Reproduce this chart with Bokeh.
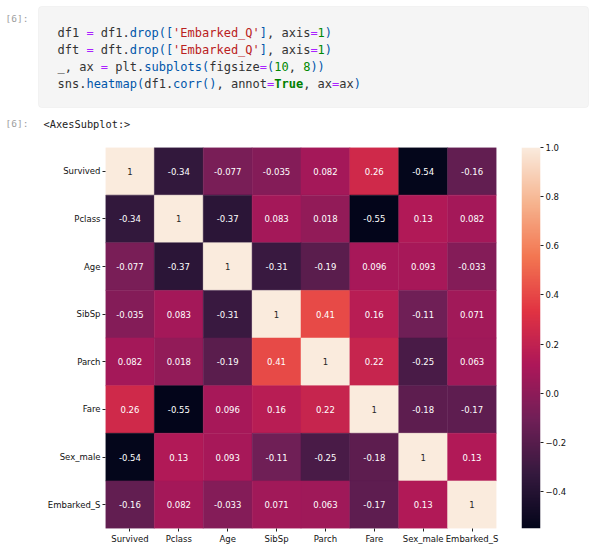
import numpy as np
from bokeh.plotting import figure
from bokeh.layouts import column, row
from bokeh.models import (ColumnDataSource, FactorRange, Range1d, LinearColorMapper,
                          FixedTicker, BoxAnnotation)
from bokeh.core.properties import value
from bokeh.embed import file_html
from bokeh.resources import INLINE

# ---------------- data ----------------
variables = ["Survived", "Pclass", "Age", "SibSp", "Parch", "Fare", "Sex_male", "Embarked_S"]
corr_survived = [1, -0.34, -0.077, -0.035, 0.082, 0.26, -0.54, -0.16]
corr_pclass = [-0.34, 1, -0.37, 0.083, 0.018, -0.55, 0.13, 0.082]
corr_age = [-0.077, -0.37, 1, -0.31, -0.19, 0.096, 0.093, -0.033]
corr_sibsp = [-0.035, 0.083, -0.31, 1, 0.41, 0.16, -0.11, 0.071]
corr_parch = [0.082, 0.018, -0.19, 0.41, 1, 0.22, -0.25, 0.063]
corr_fare = [0.26, -0.55, 0.096, 0.16, 0.22, 1, -0.18, -0.17]
corr_sex_male = [-0.54, 0.13, 0.093, -0.11, -0.25, -0.18, 1, 0.13]
corr_embarked_s = [-0.16, 0.082, -0.033, 0.071, 0.063, -0.17, 0.13, 1]
colorbar_ticks = [-0.4, -0.2, 0.0, 0.2, 0.4, 0.6, 0.8, 1.0]

rows_data = [corr_survived, corr_pclass, corr_age, corr_sibsp, corr_parch,
             corr_fare, corr_sex_male, corr_embarked_s]

# ---------------- rocket-like palette ----------------
anchors = ["#03051a", "#35193e", "#701f57", "#ad1759", "#e13342", "#f37651", "#f6b48f", "#faebdd"]
def hex2rgb(h):
    return np.array([int(h[i:i + 2], 16) for i in (1, 3, 5)], dtype=float)
anc = np.array([hex2rgb(h) for h in anchors])
apos = np.linspace(0, 1, len(anchors))
palette = []
for t in np.linspace(0, 1, 256):
    rgb = [np.interp(t, apos, anc[:, k]) for k in range(3)]
    palette.append("#%02x%02x%02x" % tuple(int(round(c)) for c in rgb))

all_vals = [v for r in rows_data for v in r]
vmin, vmax = min(all_vals), max(all_vals)
mapper = LinearColorMapper(palette=palette, low=vmin, high=vmax)

xs, ys, vals, labels, tcols = [], [], [], [], []
for rname, r in zip(variables, rows_data):
    for cname, v in zip(variables, r):
        xs.append(cname)
        ys.append(rname)
        vals.append(v)
        labels.append(f"{v:.2g}")
        tcols.append("#262626" if v > 0.6 else "#ffffff")
src = ColumnDataSource(dict(x=xs, y=ys, val=vals, label=labels, tcol=tcols))

# ---------------- code cell figure ----------------
CW, CH = 590, 138
code = figure(width=CW, height=CH, x_range=Range1d(0, CW), y_range=Range1d(CH, 0),
              output_backend="svg", toolbar_location=None, tools="",
              min_border=0, outline_line_color=None)
code.axis.visible = False
code.grid.visible = False

box = BoxAnnotation(left=38, right=588, top=6, bottom=107, fill_color="#f5f5f5", fill_alpha=1,
                    line_color="#e0e0e0", line_width=1, border_radius=3, level="underlay")
code.add_layout(box)

VAR, OP, PROP, STR, NUM, KW = "#333333", "#aa22ff", "#0055aa", "#ba2121", "#008800", "#008000"
code_lines = [
    [("df1 ", VAR), ("=", OP), (" df1.", VAR), ("drop", PROP), ("([", PROP), ("'Embarked_Q'", STR),
     ("]", PROP), (", axis", VAR), ("=", OP), ("1", NUM), (")", PROP)],
    [("dft ", VAR), ("=", OP), (" dft.", VAR), ("drop", PROP), ("([", PROP), ("'Embarked_Q'", STR),
     ("]", PROP), (", axis", VAR), ("=", OP), ("1", NUM), (")", PROP)],
    [("_, ax ", VAR), ("=", OP), (" plt.", VAR), ("subplots", PROP), ("(", PROP), ("figsize", VAR),
     ("=", OP), ("(", PROP), ("10", NUM), (", ", VAR), ("8", NUM), ("))", PROP)],
    [("sns.", VAR), ("heatmap", PROP), ("(", PROP), ("df1.", VAR), ("corr", PROP), ("()", PROP),
     (", annot", VAR), ("=", OP), ("True", KW), (", ax", VAR), ("=", OP), ("ax", VAR), (")", PROP)],
]
charw = 0.6021 * 12
x0 = 57
line_y = [32, 49, 66, 83]
tx, ty, tt, tc = [], [], [], []
bx, by, bt, bc = [], [], [], []
for ly, toks in zip(line_y, code_lines):
    col = 0
    for s, c in toks:
        lead = len(s) - len(s.lstrip())
        xpos = x0 + (col + lead) * charw
        if s.strip():
            if c == KW:
                bx.append(xpos); by.append(ly); bt.append(s.strip()); bc.append(c)
            else:
                tx.append(xpos); ty.append(ly); tt.append(s.strip()); tc.append(c)
        col += len(s)
code.text(x=tx, y=ty, text=tt, text_color=tc, text_font=value("DejaVu Sans Mono"),
          text_font_size="12px", text_baseline="middle", text_align="left")
code.text(x=bx, y=by, text=bt, text_color=bc, text_font=value("DejaVu Sans Mono"),
          text_font_size="12px", text_baseline="middle", text_align="left",
          text_font_style="bold")

code.text(x=[28, 28], y=[18, 123], text=["[6]:", "[6]:"], text_color="#9e9e9e",
          text_font=value("DejaVu Sans Mono"), text_font_size="9.5px",
          text_baseline="middle", text_align="right")
code.text(x=[43], y=[123], text=["<AxesSubplot:>"], text_color="#212121",
          text_font=value("DejaVu Sans Mono"), text_font_size="10.3px",
          text_baseline="middle", text_align="left")

# ---------------- heatmap figure ----------------
HH = 551 - CH
heat = figure(width=500, height=HH, x_range=FactorRange(*variables),
              y_range=FactorRange(*reversed(variables)),
              output_backend="svg", toolbar_location=None, tools="",
              min_border_left=105, min_border_right=4, min_border_top=9, min_border_bottom=23,
              outline_line_color=None)
heat.rect(x="x", y="y", width=1, height=1, source=src,
          fill_color={"field": "val", "transform": mapper},
          line_color={"field": "val", "transform": mapper}, line_width=0.5)
heat.text(x="x", y="y", text="label", text_color="tcol", source=src,
          text_font=value("DejaVu Sans"), text_font_size="8.5px",
          text_align="center", text_baseline="middle")
heat.grid.visible = False
for ax in (heat.xaxis[0], heat.yaxis[0]):
    ax.axis_line_color = None
    ax.major_tick_out = 3
    ax.major_tick_in = 0
    ax.major_tick_line_color = "#222222"
    ax.minor_tick_line_color = None
    ax.major_label_text_font = "DejaVu Sans"
    ax.major_label_text_font_size = "8.5px"
    ax.major_label_text_color = "#111111"
    ax.major_label_standoff = 2
heat.x_range.range_padding = 0
heat.y_range.range_padding = 0

# ---------------- colorbar figure ----------------
cbar = figure(width=90, height=HH, x_range=Range1d(0, 1), y_range=Range1d(vmin, vmax),
              output_backend="svg", toolbar_location=None, tools="",
              y_axis_location="right", min_border_left=21, min_border_right=50,
              min_border_top=9, min_border_bottom=23, outline_line_color=None)
grad = np.linspace(vmin, vmax, 256).reshape(256, 1)
cbar.image(image=[grad], x=0, y=vmin, dw=1, dh=vmax - vmin, color_mapper=mapper)
cbar.xaxis.visible = False
cbar.grid.visible = False
ya = cbar.yaxis[0]
ya.ticker = FixedTicker(ticks=colorbar_ticks)
ya.major_label_overrides = {t: (f"{t:.1f}".replace("-", "\u2212")) for t in colorbar_ticks}
ya.axis_line_color = None
ya.major_tick_out = 3
ya.major_tick_in = 0
ya.major_tick_line_color = "#222222"
ya.minor_tick_line_color = None
ya.major_label_text_font = "DejaVu Sans"
ya.major_label_text_font_size = "8.5px"
ya.major_label_text_color = "#111111"
ya.major_label_standoff = 2

layout = column(code, row(heat, cbar))
open("out.html", "w").write(file_html(layout, INLINE))
